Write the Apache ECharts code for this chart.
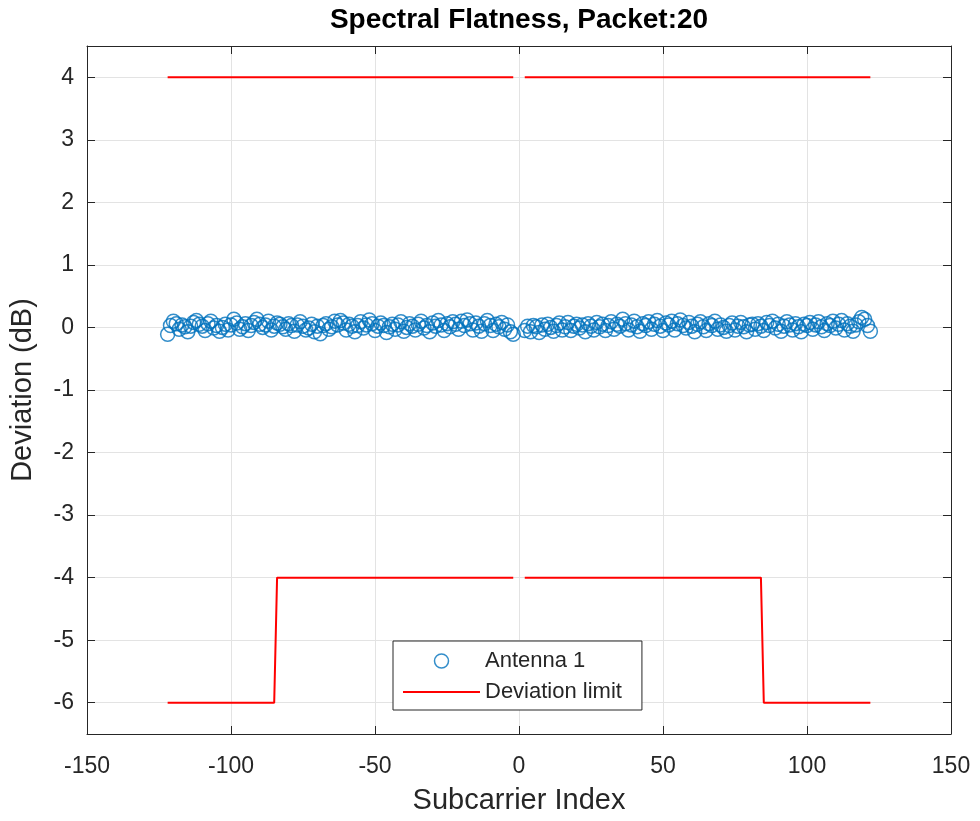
<!DOCTYPE html>
<html>
<head>
<meta charset="utf-8">
<script src="https://cdn.jsdelivr.net/npm/echarts@6/dist/echarts.min.js"></script>
<style>
html,body{margin:0;padding:0;background:#fff;}
#chart{width:980px;height:821px;}
</style>
</head>
<body>
<div id="chart"></div>
<script>
// ---- data ----
const titleText = 'Spectral Flatness, Packet:20';
const xAxisName = 'Subcarrier Index';
const yAxisName = 'Deviation (dB)';
const xTicks = [-150, -100, -50, 0, 50, 100, 150];
const yTicks = [-6, -5, -4, -3, -2, -1, 0, 1, 2, 3, 4];

// occupied subcarrier index ranges (DC gap in the middle)
const leftSubcarrierRange = [-122, -2];
const rightSubcarrierRange = [2, 122];

const antennaDeviationLeft = [
  -0.11, 0.03, 0.10, 0.06, -0.03, 0.04, 0.01, -0.07, 0.02, 0.08,
  0.11, 0.05, 0.02, -0.05, 0.06, 0.10, -0.01, 0.03, -0.06, 0.00,
  0.05, -0.04, 0.04, 0.13, 0.07, -0.03, 0.01, 0.06, -0.05, 0.03,
  0.08, 0.13, 0.05, 0.00, 0.04, 0.10, -0.04, 0.02, 0.07, 0.05,
  0.01, -0.03, 0.06, 0.03, -0.06, 0.04, 0.09, 0.02, -0.04, -0.01,
  0.05, -0.07, 0.02, -0.10, 0.03, 0.06, -0.03, 0.01, 0.10, 0.04,
  0.11, 0.07, -0.04, 0.05, 0.02, -0.07, 0.03, 0.09, -0.01, 0.04,
  0.12, 0.06, -0.05, 0.02, 0.07, 0.03, -0.08, 0.01, 0.05, -0.03,
  0.04, 0.09, -0.06, 0.00, 0.06, 0.02, -0.04, 0.05, 0.10, -0.01,
  0.03, -0.07, 0.07, 0.02, 0.11, 0.04, -0.05, 0.06, 0.01, 0.09,
  0.05, -0.03, 0.10, 0.03, 0.12, 0.06, -0.04, 0.07, 0.02, -0.06,
  0.06, 0.11, 0.03, -0.05, 0.05, 0.01, 0.08, -0.03, 0.04, -0.07,
  -0.11
];
const antennaDeviationRight = [
  -0.05, 0.02, -0.07, 0.03, 0.01, -0.08, 0.04, -0.03, 0.05, 0.00,
  -0.06, 0.03, 0.07, -0.04, 0.01, 0.08, -0.05, 0.02, 0.05, -0.01,
  0.04, -0.07, 0.06, 0.02, -0.04, 0.08, 0.01, 0.05, -0.05, 0.03,
  0.09, -0.03, 0.05, 0.02, 0.13, 0.06, -0.04, 0.04, 0.10, 0.01,
  -0.06, 0.06, 0.03, 0.09, -0.03, 0.05, 0.11, 0.02, -0.05, 0.07,
  0.04, 0.10, -0.04, 0.06, 0.12, 0.03, -0.01, 0.08, 0.02, -0.07,
  0.05, 0.09, 0.01, -0.05, 0.06, 0.03, 0.10, -0.03, 0.04, 0.00,
  -0.06, 0.03, 0.07, -0.04, 0.02, 0.08, 0.01, -0.07, 0.04, 0.05,
  -0.03, 0.06, 0.02, -0.05, 0.08, 0.03, 0.10, -0.01, 0.05, -0.06,
  0.02, 0.09, 0.04, -0.04, 0.06, 0.01, -0.07, 0.05, 0.03, 0.08,
  -0.03, 0.04, 0.09, 0.01, -0.05, 0.06, 0.03, 0.10, -0.01, 0.05,
  0.11, -0.04, 0.06, 0.02, -0.06, 0.04, 0.09, 0.16, 0.13, 0.03,
  -0.06
];

// deviation limit breakpoints
const upperLimitLeftX = [-122, -2];
const upperLimitLeftY = [4, 4];
const upperLimitRightX = [2, 122];
const upperLimitRightY = [4, 4];
const lowerLimitLeftX = [-122, -85, -84, -2];
const lowerLimitLeftY = [-6, -6, -4, -4];
const lowerLimitRightX = [2, 84, 85, 122];
const lowerLimitRightY = [-4, -4, -6, -6];

const seriesNames = ['Antenna 1', 'Deviation limit'];

// ---- build ----
function rangeIdx(r) { const a = []; for (let k = r[0]; k <= r[1]; k++) a.push(k); return a; }
const leftIdx = rangeIdx(leftSubcarrierRange);
const rightIdx = rangeIdx(rightSubcarrierRange);
const scatterData = leftIdx.map((k, i) => [k, antennaDeviationLeft[i]])
  .concat(rightIdx.map((k, i) => [k, antennaDeviationRight[i]]));
const zip = (xs, ys) => xs.map((x, i) => [x, ys[i]]);

const FONT = "'Liberation Sans', Arial, Helvetica, sans-serif";
const TXT = '#262626';
const BLUE = '#0072BD';
const RED = '#FF0000';

const limitLine = (data) => ({
  name: seriesNames[1], type: 'line', data: data, symbol: 'none',
  lineStyle: { color: RED, width: 2 }, itemStyle: { color: RED },
  z: 3, animation: false
});

const chart = echarts.init(document.getElementById('chart'), null, { renderer: 'canvas' });
chart.setOption({
  backgroundColor: '#fff',
  animation: false,
  title: {
    text: titleText, left: 519, top: 6, textAlign: 'center', padding: 0,
    textStyle: { fontFamily: FONT, fontSize: 28, fontWeight: 'bold', color: '#000' }
  },
  grid: { left: 87, right: 29, top: 46, bottom: 87, containLabel: false },
  legend: {
    orient: 'vertical', left: 393, top: 641,
    padding: [9, 20, 7, 10], itemGap: 9, itemWidth: 77, itemHeight: 14, itemTextGap: 7,
    symbolKeepAspect: true,
    borderColor: TXT, borderWidth: 1, backgroundColor: '#fff', borderRadius: 0,
    textStyle: { fontFamily: FONT, fontSize: 22, color: TXT, lineHeight: 22 },
    data: [
      { name: seriesNames[0], icon: 'circle', itemStyle: { color: 'rgba(0,0,0,0)', borderColor: BLUE, borderWidth: 1.5 } },
      { name: seriesNames[1], icon: 'path://M0,0H77V2H0Z', itemStyle: { color: RED, borderWidth: 0 } }
    ]
  },
  xAxis: [{
    type: 'value', min: xTicks[0], max: xTicks[xTicks.length - 1], interval: 50,
    name: xAxisName, nameLocation: 'middle', nameGap: 52,
    nameTextStyle: { fontFamily: FONT, fontSize: 29, color: TXT },
    axisLine: { show: true, onZero: false, lineStyle: { color: TXT, width: 1 } },
    axisTick: { show: true, inside: true, length: 8, lineStyle: { color: TXT } },
    axisLabel: { fontFamily: FONT, fontSize: 23, color: TXT, margin: 21 },
    splitLine: { show: true, lineStyle: { color: '#e3e3e3', width: 1 } }
  }, {
    type: 'value', position: 'top', min: xTicks[0], max: xTicks[xTicks.length - 1], interval: 50,
    axisLine: { show: true, onZero: false, lineStyle: { color: TXT, width: 1 } },
    axisTick: { show: true, inside: true, length: 8, lineStyle: { color: TXT } },
    axisLabel: { show: false }, splitLine: { show: false }
  }],
  yAxis: [{
    type: 'value', min: -6.5, max: 4.5, splitNumber: 11, minInterval: 1, maxInterval: 1,
    name: yAxisName, nameLocation: 'middle', nameGap: 50,
    nameTextStyle: { fontFamily: FONT, fontSize: 29, color: TXT },
    axisLine: { show: true, onZero: false, lineStyle: { color: TXT, width: 1 } },
    axisTick: { show: true, inside: true, length: 8, lineStyle: { color: TXT } },
    axisLabel: {
      fontFamily: FONT, fontSize: 23, color: TXT, margin: 13,
      formatter: v => (yTicks.indexOf(v) >= 0 ? String(v) : '')
    },
    splitLine: { show: true, lineStyle: { color: '#e3e3e3', width: 1 } }
  }, {
    type: 'value', position: 'right', min: -6.5, max: 4.5, splitNumber: 11, minInterval: 1, maxInterval: 1,
    axisLine: { show: true, onZero: false, lineStyle: { color: TXT, width: 1 } },
    axisTick: { show: true, inside: true, length: 8, lineStyle: { color: TXT } },
    axisLabel: { show: false }, splitLine: { show: false }
  }],
  series: [
    {
      name: seriesNames[0], type: 'scatter', data: scatterData,
      symbol: 'circle', symbolSize: 14,
      itemStyle: { color: 'rgba(0,0,0,0)', borderColor: BLUE, borderWidth: 1.5 },
      z: 2, animation: false
    },
    limitLine(zip(upperLimitLeftX, upperLimitLeftY)),
    limitLine(zip(upperLimitRightX, upperLimitRightY)),
    limitLine(zip(lowerLimitLeftX, lowerLimitLeftY)),
    limitLine(zip(lowerLimitRightX, lowerLimitRightY))
  ]
});
</script>
</body>
</html>
